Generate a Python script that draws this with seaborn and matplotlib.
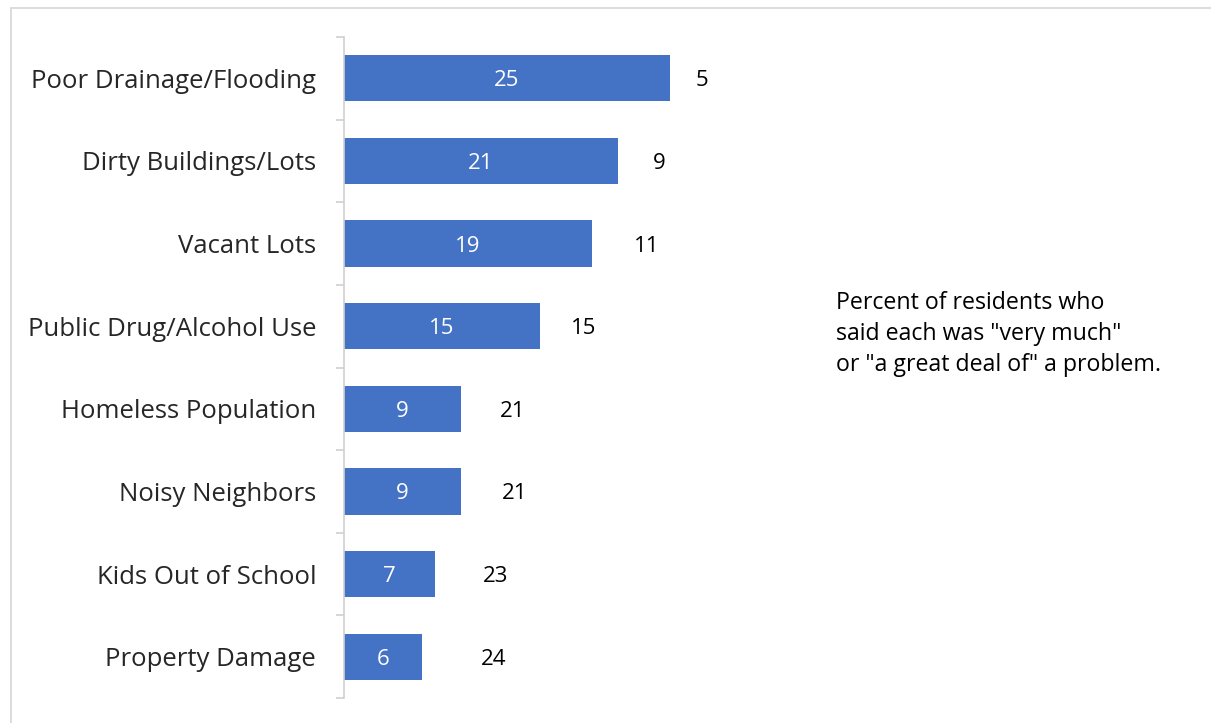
import matplotlib
matplotlib.use("Agg")
import matplotlib.pyplot as plt
import matplotlib.transforms as mtransforms
import seaborn as sns
import pandas as pd
from matplotlib.patches import Rectangle

categories = [
    "Poor Drainage/Flooding",
    "Dirty Buildings/Lots",
    "Vacant Lots",
    "Public Drug/Alcohol Use",
    "Homeless Population",
    "Noisy Neighbors",
    "Kids Out of School",
    "Property Damage",
]
problem_pct = [25, 21, 19, 15, 9, 9, 7, 6]
remainder_pct = [5, 9, 11, 15, 21, 21, 23, 24]

note = 'Percent of residents who\nsaid each was "very much"\nor "a great deal of" a problem.'

# horizontal gap (in axis units) between each bar's end and its remainder label
remainder_label_gap = [2.45, 3.2, 4.2, 3.4, 3.95, 4.1, 4.65, 5.5]

sns.set_theme(style="white")
plt.rcParams["font.family"] = ["Open Sans", "DejaVu Sans"]

df = pd.DataFrame({"category": categories, "problem": problem_pct, "rest": remainder_pct})

W, H = 1211, 723
fig = plt.figure(figsize=(W / 100, H / 100), dpi=100)
ax = fig.add_axes([344 / W, 1 - 698 / H, (735 - 344) / W, (698 - 37) / H])

# nudge numeric labels down a touch so digits sit optically centred on the bars
nudge_pts = -1.8
nudge = mtransforms.ScaledTranslation(0, nudge_pts / 72, fig.dpi_scale_trans)

blue = "#4472C4"
sns.barplot(data=df, x="problem", y="category", orient="h", color=blue,
            saturation=1, width=0.56, ax=ax, edgecolor="none")
inner = ax.bar_label(ax.containers[0], labels=[str(v) for v in problem_pct],
                     label_type="center", color="white", fontsize=16)
for t in inner:
    t.xyann = (0, nudge_pts)

for i, (p, r, g) in enumerate(zip(problem_pct, remainder_pct, remainder_label_gap)):
    ax.text(p + g, i, str(r), ha="center", va="center", color="black", fontsize=16,
            transform=ax.transData + nudge)

ax.set_xlim(0, 30)
ax.set_ylim(len(categories) - 0.5, -0.5)
ax.set_xlabel("")
ax.set_ylabel("")
ax.set_xticks([])
ax.set_yticks([i - 0.5 for i in range(len(categories) + 1)], minor=False)
ax.set_yticklabels([])
ax.set_yticks(range(len(categories)), minor=True)
ax.set_yticklabels(categories, minor=True, fontsize=18.5)
ax.tick_params(axis="y", which="major", left=True, length=6, width=1.2, color="#D0D0D0")
ax.tick_params(axis="y", which="minor", left=False, length=0, pad=20)
for side in ["top", "right", "bottom"]:
    ax.spines[side].set_visible(False)
ax.spines["left"].set_color("#D0D0D0")
ax.spines["left"].set_linewidth(1.2)

fig.text(836 / W, 1 - 334 / H, note, ha="left", va="center", fontsize=16.7,
         linespacing=1.38, color="black")

fig.patches.append(Rectangle((11 / W, -0.1), 1.2, 1 - 8 / H + 0.1,
                             transform=fig.transFigure, fill=False,
                             edgecolor="#D9D9D9", linewidth=1.3))

fig.savefig("out.png", dpi=100, facecolor="white")
